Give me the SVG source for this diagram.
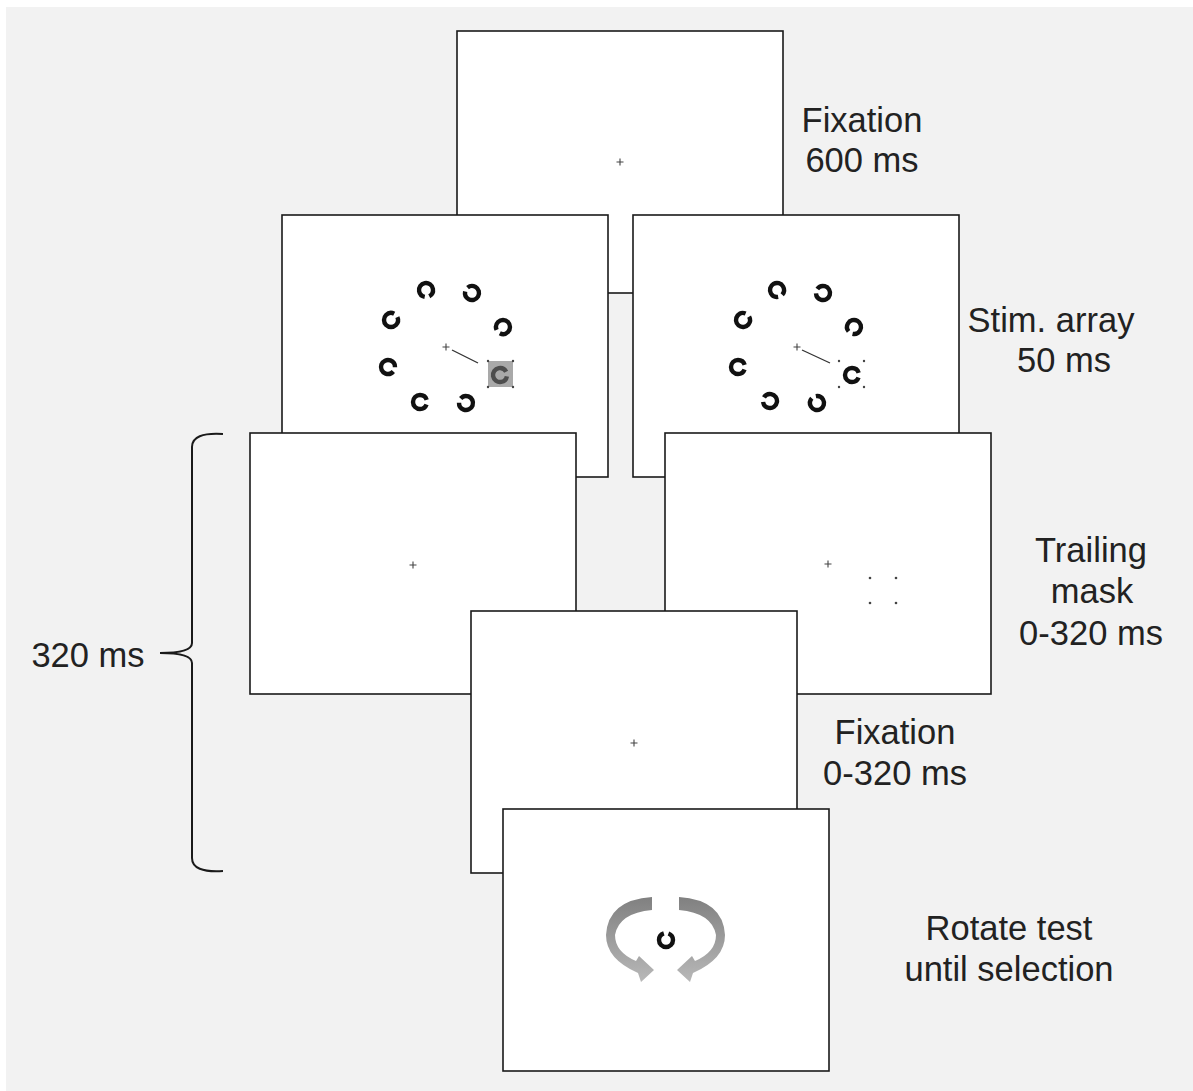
<svg xmlns="http://www.w3.org/2000/svg" xmlns:xlink="http://www.w3.org/1999/xlink" width="1193" height="1091" viewBox="0 0 1193 1091">
<style>
.panel{fill:#ffffff;stroke:#1a1a1a;stroke-width:1.6}
.lbl{font-family:"Liberation Sans",Arial,sans-serif;font-size:34.5px;fill:#222222;text-anchor:middle}
.cross{stroke:#444444;stroke-width:1.1;fill:none}
.ring{fill:none;stroke:#111111;stroke-width:4.4;stroke-dasharray:39 5;stroke-dashoffset:41.5}
.cue{stroke:#333333;stroke-width:1.3}
.dot{fill:#444444}
</style>
<defs>
<circle id="ring" class="ring" cx="0" cy="0" r="7"/>
<path id="cross" class="cross" d="M-3.5,0H3.5M0,-3.5V3.5"/>
<linearGradient id="arrowGrad" x1="0" y1="0" x2="0" y2="1">
<stop offset="0" stop-color="#808080"/>
<stop offset="1" stop-color="#b8b8b8"/>
</linearGradient>
<path id="arrowL" fill="url(#arrowGrad)" d="M652,897 L652,910 Q619,913 615,935 Q615,952 636,961 L639,956 L654,970 L641,982 L638,973 Q606,959 606,935 Q608,900 652,897 Z"/>
</defs>
<rect x="0" y="0" width="1193" height="1091" fill="#ffffff"/>
<rect x="6" y="7" width="1187" height="1084" fill="#f2f2f2"/>

<g id="connectors">
<path d="M223,434 Q192,432 192,447 L192,643 Q192,653 160,653 Q192,653 192,663 L192,858 Q192,873 223,871" fill="none" stroke="#1a1a1a" stroke-width="2"/>
</g>

<g id="fixation1">
<rect class="panel" x="457" y="31" width="326" height="262"/>
<use href="#cross" x="620" y="162"/>
<text class="lbl" x="862" y="132">Fixation</text>
<text class="lbl" x="862" y="172">600 ms</text>
</g>

<g id="stim-left">
<rect class="panel" x="282" y="215" width="326" height="262"/>
<use href="#cross" x="446" y="347"/>
<line class="cue" x1="452" y1="350" x2="478" y2="363"/>
<rect x="488" y="361" width="25" height="26" fill="#9a9a9a" fill-opacity="0.85"/>
<circle class="dot" cx="488" cy="361" r="1.2"/><circle class="dot" cx="513" cy="361" r="1.2"/>
<circle class="dot" cx="488" cy="387" r="1.2"/><circle class="dot" cx="513" cy="387" r="1.2"/>
<use href="#ring" transform="translate(426,290) rotate(80)"/>
<use href="#ring" transform="translate(472,293) rotate(-150)"/>
<use href="#ring" transform="translate(391,320) rotate(-45)"/>
<use href="#ring" transform="translate(503,327) rotate(135)"/>
<use href="#ring" transform="translate(388,367) rotate(20)"/>
<use href="#ring" transform="translate(500,375) rotate(-10)" style="opacity:0.6"/>
<use href="#ring" transform="translate(420,402) rotate(0)"/>
<use href="#ring" transform="translate(466,403) rotate(-160)"/>
</g>

<g id="stim-right">
<rect class="panel" x="633" y="215" width="326" height="262"/>
<use href="#cross" x="797" y="347"/>
<line class="cue" x1="802" y1="350" x2="830" y2="363"/>
<circle class="dot" cx="839" cy="361" r="1.2"/><circle class="dot" cx="864" cy="361" r="1.2"/>
<circle class="dot" cx="839" cy="387" r="1.2"/><circle class="dot" cx="864" cy="387" r="1.2"/>
<use href="#ring" transform="translate(777,290) rotate(60)"/>
<use href="#ring" transform="translate(823,293) rotate(-165)"/>
<use href="#ring" transform="translate(743,320) rotate(-50)"/>
<use href="#ring" transform="translate(854,327) rotate(120)"/>
<use href="#ring" transform="translate(738,367) rotate(0)"/>
<use href="#ring" transform="translate(852,375) rotate(0)"/>
<use href="#ring" transform="translate(770,401) rotate(-170)"/>
<use href="#ring" transform="translate(817,403) rotate(-120)"/>
<text class="lbl" x="1051" y="332">Stim. array</text>
<text class="lbl" x="1064" y="372">50 ms</text>
</g>

<g id="trailing-left">
<rect class="panel" x="250" y="433" width="326" height="261"/>
<use href="#cross" x="413" y="565"/>
</g>

<g id="trailing-right">
<rect class="panel" x="665" y="433" width="326" height="261"/>
<use href="#cross" x="828" y="564"/>
<circle class="dot" cx="870" cy="578" r="1.3"/><circle class="dot" cx="896" cy="578" r="1.3"/>
<circle class="dot" cx="870" cy="603" r="1.3"/><circle class="dot" cx="896" cy="603" r="1.3"/>
<text class="lbl" x="1091" y="562">Trailing</text>
<text class="lbl" x="1092" y="603">mask</text>
<text class="lbl" x="1091" y="645">0-320 ms</text>
</g>

<g id="label-320">
<text class="lbl" x="88" y="667">320 ms</text>
</g>

<g id="fixation2">
<rect class="panel" x="471" y="611" width="326" height="262"/>
<use href="#cross" x="634" y="743"/>
<text class="lbl" x="895" y="744">Fixation</text>
<text class="lbl" x="895" y="785">0-320 ms</text>
</g>

<g id="rotate-test">
<rect class="panel" x="503" y="809" width="326" height="262"/>
<use href="#arrowL"/>
<use href="#arrowL" transform="translate(1331,0) scale(-1,1)"/>
<use href="#ring" transform="translate(666,940) rotate(-90)"/>
<text class="lbl" x="1009" y="940">Rotate test</text>
<text class="lbl" x="1009" y="981">until selection</text>
</g>
</svg>
